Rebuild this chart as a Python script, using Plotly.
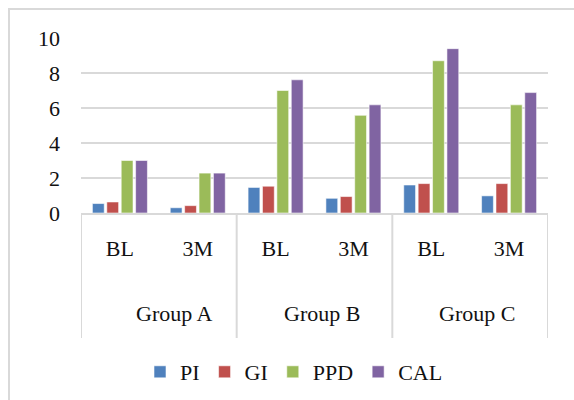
import plotly.graph_objects as go

# Periodontal indices at baseline (BL) and 3 months (3M) for three groups
categories = ["BL", "3M", "BL", "3M", "BL", "3M"]
groups = ["Group A", "Group B", "Group C"]
pi_vals = [0.54, 0.30, 1.46, 0.84, 1.60, 0.98]
gi_vals = [0.63, 0.42, 1.53, 0.94, 1.68, 1.68]
ppd_vals = [3.0, 2.28, 7.0, 5.58, 8.70, 6.18]
cal_vals = [3.0, 2.28, 7.61, 6.18, 9.39, 6.88]

series = [
    ("PI", pi_vals, "#4f81bd"),
    ("GI", gi_vals, "#c0504d"),
    ("PPD", ppd_vals, "#9bbb59"),
    ("CAL", cal_vals, "#8064a2"),
]

FONT = "Liberation Serif"
FS = 22
GRID = "#d9d9d9"
TXT = "#111111"

positions = list(range(len(categories)))

fig = go.Figure()
for name, vals, color in series:
    fig.add_trace(go.Bar(
        x=positions, y=vals, name=name,
        marker=dict(color=color, line=dict(color="rgba(255,255,255,0.7)", width=0.8)),
    ))

# plot-area geometry in pixels (used for paper-coordinate conversions)
W, H = 574, 400
L, R, T, B = 81, 26, 38, 187
pw, ph = W - L - R, H - T - B


def px_to_paper_y(py):
    return (H - B - py) / ph


def px_to_paper_x(px):
    return (px - L) / pw


shapes = []
# vertical group dividers below the category axis
for xd in [-0.5, 1.5, 3.5, 5.5]:
    shapes.append(dict(type="line", xref="x", yref="paper", x0=xd, x1=xd,
                       y0=0, y1=px_to_paper_y(338), line=dict(color=GRID, width=2)))
# chart frame
shapes.append(dict(type="rect", xref="paper", yref="paper",
                   x0=px_to_paper_x(9), x1=px_to_paper_x(700),
                   y0=px_to_paper_y(500), y1=px_to_paper_y(9),
                   line=dict(color=GRID, width=2), fillcolor="rgba(0,0,0,0)", layer="below"))

group_x = [0.70, 2.59, 4.59]
annotations = [
    dict(text=g, x=gx, xref="x", y=px_to_paper_y(313), yref="paper",
         showarrow=False, xanchor="center", yanchor="middle",
         font=dict(family=FONT, size=FS, color=TXT))
    for g, gx in zip(groups, group_x)
]

fig.update_layout(
    width=W, height=H,
    margin=dict(l=L, r=R, t=T, b=B, autoexpand=False),
    paper_bgcolor="white", plot_bgcolor="white",
    barmode="group", bargap=0.26, bargroupgap=0.18,
    font=dict(family=FONT, size=FS, color=TXT),
    xaxis=dict(
        range=[-0.5, 5.5], tickvals=positions, ticktext=categories,
        showgrid=False, zeroline=False, showline=True, linecolor=GRID, linewidth=2,
        ticks="", ticklabelstandoff=15,
        tickfont=dict(family=FONT, size=FS, color=TXT),
    ),
    yaxis=dict(
        range=[0, 10], dtick=2, showgrid=True, gridcolor=GRID, gridwidth=2,
        zeroline=False, showline=False, ticks="", ticklabelstandoff=20,
        tickfont=dict(family=FONT, size=FS, color=TXT),
    ),
    legend=dict(orientation="h", x=px_to_paper_x(294), xanchor="center",
                y=px_to_paper_y(372), yanchor="middle",
                font=dict(family=FONT, size=FS, color=TXT), itemwidth=30),
    shapes=shapes,
    annotations=annotations,
    showlegend=True,
)

fig.write_html("out.html")
